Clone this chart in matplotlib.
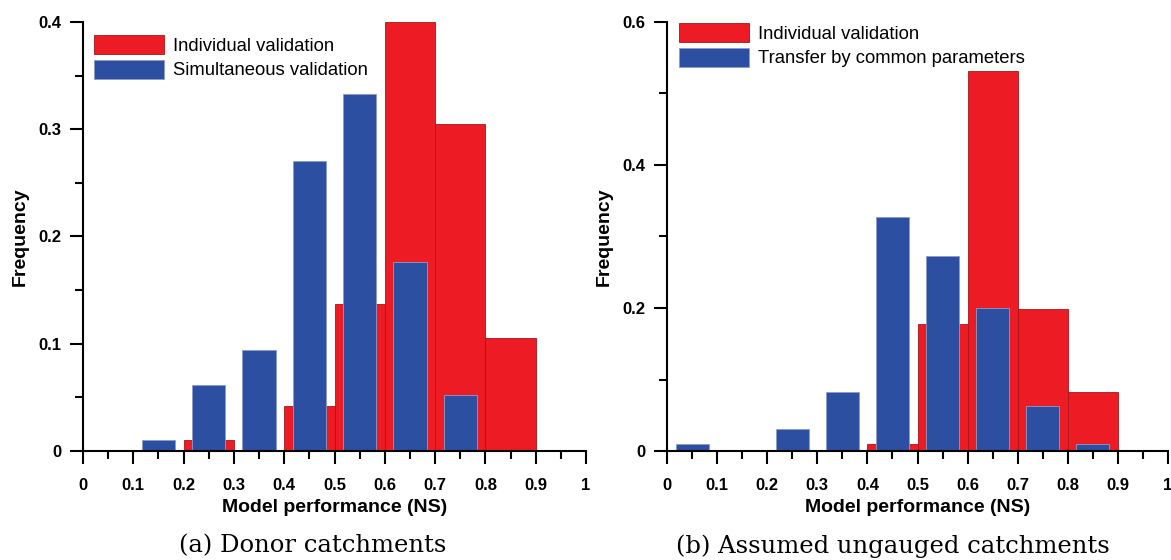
import numpy as np
import matplotlib
matplotlib.use("Agg")
import matplotlib.pyplot as plt
from matplotlib.ticker import MultipleLocator, FuncFormatter

plt.rcParams['font.family'] = ['Liberation Sans', 'DejaVu Sans']

# bin left edges (width 0.1) and centres
bin_edges = np.round(np.arange(0.0, 1.0, 0.1), 2)
bin_centres = bin_edges + 0.05

# (a) donor catchments
donor_individual = [0, 0, 0.0104, 0, 0.042, 0.137, 0.40, 0.305, 0.105, 0]
donor_simultaneous = [0, 0.0104, 0.062, 0.094, 0.270, 0.333, 0.176, 0.052, 0, 0]

# (b) assumed ungauged catchments
ungauged_individual = [0, 0, 0, 0, 0.0104, 0.177, 0.531, 0.198, 0.083, 0]
ungauged_transfer = [0.0104, 0, 0.031, 0.083, 0.327, 0.273, 0.200, 0.063, 0.0104, 0]

red = '#ED1C24'
blue = '#2C4FA1'

panels = [
    dict(red=donor_individual, blue=donor_simultaneous,
         labels=["Individual validation", "Simultaneous validation"],
         ymax=0.4, ymajor=0.1, yminor=0.05, caption="(a) Donor catchments",
         rect=[83 / 1171, 109 / 560, 503 / 1171, 429 / 560],
         leg=(0.022, 0.97), capx=313 / 1171),
    dict(red=ungauged_individual, blue=ungauged_transfer,
         labels=["Individual validation", "Transfer by common parameters"],
         ymax=0.6, ymajor=0.2, yminor=0.1, caption="(b) Assumed ungauged catchments",
         rect=[667 / 1171, 109 / 560, 501 / 1171, 429 / 560],
         leg=(0.024, 0.998), capx=893 / 1171),
]

fig = plt.figure(figsize=(11.71, 5.6), dpi=100)

fmt = FuncFormatter(lambda v, pos: f"{v:g}")

for p in panels:
    ax = fig.add_axes(p["rect"])
    ax.bar(bin_edges, p["red"], width=0.1, align='edge', color=red,
           edgecolor='#A8141A', linewidth=0.6, label=p["labels"][0], zorder=2)
    ax.bar(bin_centres, p["blue"], width=0.066, align='center', color=blue,
           edgecolor='#8C9CC8', linewidth=0.6, label=p["labels"][1], zorder=3)

    ax.set_xlim(0, 1)
    ax.set_ylim(0, p["ymax"])
    ax.xaxis.set_major_locator(MultipleLocator(0.1))
    ax.xaxis.set_minor_locator(MultipleLocator(0.05))
    ax.yaxis.set_major_locator(MultipleLocator(p["ymajor"]))
    ax.yaxis.set_minor_locator(MultipleLocator(p["yminor"]))
    ax.xaxis.set_major_formatter(fmt)
    ax.yaxis.set_major_formatter(fmt)

    for s in ["top", "right"]:
        ax.spines[s].set_visible(False)
    for s in ["left", "bottom"]:
        ax.spines[s].set_linewidth(1.5)
        ax.spines[s].set_zorder(5)

    ax.tick_params(which='major', length=9.5, width=1.5, direction='out',
                   labelsize=12)
    ax.tick_params(which='minor', length=5.5, width=1.5, direction='out')
    ax.tick_params(axis='x', which='major', pad=10)
    ax.tick_params(axis='y', which='major', pad=6)
    for lab in ax.get_xticklabels() + ax.get_yticklabels():
        lab.set_fontweight('bold')

    ax.set_xlabel("Model performance (NS)", fontsize=14, fontweight='bold',
                  labelpad=4)
    ax.set_ylabel("Frequency", fontsize=14, fontweight='bold', labelpad=7)

    ax.legend(loc='upper left', bbox_to_anchor=p["leg"], frameon=False,
              fontsize=13.3, handlelength=3.8, handleheight=1.2,
              handletextpad=0.45, labelspacing=0.28, borderpad=0,
              borderaxespad=0)

    fig.text(p["capx"], 0.025, p["caption"], ha='center', va='center',
             fontsize=17.5, family=['DejaVu Serif'])

fig.savefig("out.png", dpi=100)
